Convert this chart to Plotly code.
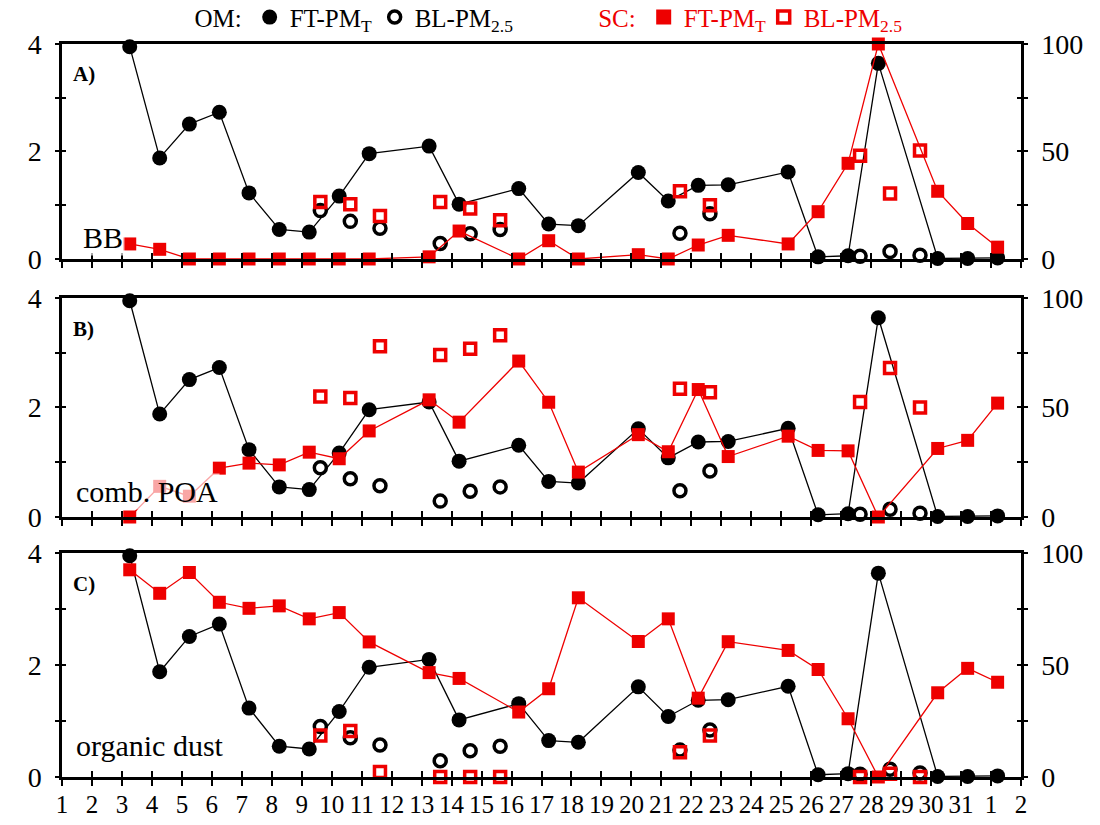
import plotly.graph_objects as go

# x axis: day of month (1..31, then 1, 2 of next month)
days = list(range(1, 34))
day_labels = ['1', '2', '3', '4', '5', '6', '7', '8', '9', '10', '11', '12', '13', '14', '15', '16',
              '17', '18', '19', '20', '21', '22', '23', '24', '25', '26', '27', '28', '29', '30', '31',
              '1', '2']

# sampling times
ft_x = [3.26, 4.26, 5.25, 6.25, 7.24, 8.25, 9.25, 10.25, 11.25, 13.25, 14.25, 16.24, 17.24,
        18.23, 20.23, 21.23, 22.23, 23.23, 25.23, 26.23, 27.23, 28.24, 30.22, 31.22, 32.22]
bl_x = [9.62, 10.62, 11.61, 13.62, 14.62, 15.62, 21.62, 22.62, 27.63, 28.63, 29.63]

# OM (left axis), same in every panel
om_ft = [3.95, 1.88, 2.51, 2.73, 1.23, 0.55, 0.50, 1.17, 1.96, 2.10, 1.02, 1.31, 0.65,
         0.62, 1.61, 1.08, 1.37, 1.38, 1.62, 0.04, 0.06, 3.64, 0.01, 0.01, 0.02]
om_bl = [0.90, 0.70, 0.57, 0.29, 0.47, 0.55, 0.48, 0.84, 0.05, 0.14, 0.07]

# source contributions in % (right axis)
bb_ft = [7, 4.5, 0, 0, 0, 0, 0, 0, 0, 1, 13, 0, 8.5,
         0, 2, 0, 6.5, 11, 7, 22, 44.5, 100, 31.5, 16.5, 5.5]
bb_bl = [26.5, 25.5, 20, 26.5, 23.5, 18, 31.5, 25, 48, 30.5, 50.5]

poa_ft = [0, 14, 9.5, 22.3, 24.6, 23.8, 29.6, 26.6, 39.3, 53.5, 43.3, 71.2, 52.4,
          20.5, 37.6, 29.8, 58.2, 27.6, 36.9, 30.4, 30.2, 0, 31.3, 35, 52]
poa_bl = [55, 54.3, 78, 74, 76.8, 83, 58.5, 57, 52.5, 68, 50]

dust_ft = [92.5, 82, 91.3, 78, 75.3, 76.4, 70.6, 73.4, 60.3, 46.6, 44, 29, 39.4,
           80, 60.5, 70.6, 35.2, 60.4, 56.5, 48, 26, 0, 37.6, 48.5, 42.3]
dust_bl = [18.5, 20.5, 2.2, 0, 0, 0, 11, 18.5, 0, 1.5, 0]

RED = '#ee0000'
FONT = 'Liberation Serif'

panels = [
    ('A)', 'BB', bb_ft, bb_bl, [0.7067, 1.0], 0.10),
    ('B)', 'comb. POA', poa_ft, poa_bl, [0.3547, 0.6535], 0.115),
    ('C)', 'organic dust', dust_ft, dust_bl, [0.0, 0.3056], 0.14),
]

tick_style = dict(tickwidth=2, tickcolor='black')
plain = dict(showgrid=False, zeroline=False)

fig = go.Figure()
layout = {}
annotations = []

for i, (tag, label, sc_ft, sc_bl, dom, label_y) in enumerate(panels):
    x_id = 'x' if i == 0 else f'x{i + 1}'
    yl_id = 'y' if i == 0 else f'y{2 * i + 1}'
    yr_id = f'y{2 * i + 2}'
    xin_id = f'x{4 + i}'
    ylin_id = f'y{7 + 2 * i}'
    yrin_id = f'y{8 + 2 * i}'

    # OM traces
    fig.add_trace(go.Scatter(x=ft_x, y=om_ft, mode='lines+markers',
                             line=dict(color='black', width=1.3),
                             marker=dict(color='black', size=15),
                             xaxis=x_id, yaxis=yl_id, showlegend=False, cliponaxis=False))
    fig.add_trace(go.Scatter(x=bl_x, y=om_bl, mode='markers',
                             marker=dict(symbol='circle-open', color='black', size=12,
                                         line=dict(color='black', width=3.5)),
                             xaxis=x_id, yaxis=yl_id, showlegend=False, cliponaxis=False))
    # SC traces
    fig.add_trace(go.Scatter(x=ft_x, y=sc_ft, mode='lines+markers',
                             line=dict(color=RED, width=1.3),
                             marker=dict(symbol='square', color=RED, size=13),
                             xaxis=x_id, yaxis=yr_id, showlegend=False, cliponaxis=False))
    fig.add_trace(go.Scatter(x=bl_x, y=sc_bl, mode='markers',
                             marker=dict(symbol='square-open', color=RED, size=11,
                                         line=dict(color=RED, width=3.5)),
                             xaxis=x_id, yaxis=yr_id, showlegend=False, cliponaxis=False))
    # empty traces so the inner-tick axes get drawn
    fig.add_trace(go.Scatter(x=[], y=[], xaxis=xin_id, yaxis=ylin_id, showlegend=False, hoverinfo='skip'))
    fig.add_trace(go.Scatter(x=[], y=[], xaxis=x_id, yaxis=yrin_id, showlegend=False, hoverinfo='skip'))

    xname = 'xaxis' if i == 0 else f'xaxis{i + 1}'
    ylname = 'yaxis' if i == 0 else f'yaxis{2 * i + 1}'
    layout[xname] = dict(domain=[0, 1], range=[1, 33], anchor=yl_id,
                         tickmode='array', tickvals=days, ticktext=day_labels,
                         showticklabels=(i == 2), ticks='outside', ticklen=6, **tick_style,
                         showline=True, linewidth=2.5, linecolor='black', mirror=True,
                         ticklabelstandoff=-3, tickfont=dict(size=25, color='black'), **plain)
    layout[ylname] = dict(domain=dom, range=[0, 4], anchor=x_id,
                          tickmode='array', tickvals=[0, 2, 4],
                          ticks='outside', ticklen=4, **tick_style,
                          minor=dict(dtick=1, ticks='outside', ticklen=4, **tick_style),
                          showline=True, linewidth=2.5, linecolor='black',
                          ticklabelstandoff=8, tickfont=dict(size=28, color='black'), **plain)
    layout[f'yaxis{2 * i + 2}'] = dict(overlaying=yl_id, side='right', anchor=x_id, range=[0, 100],
                                       tickmode='array', tickvals=[0, 50, 100],
                                       ticks='outside', ticklen=4, **tick_style,
                                       minor=dict(dtick=25, ticks='outside', ticklen=4, **tick_style),
                                       showline=True, linewidth=2.5, linecolor='black',
                                       ticklabelstandoff=8, tickfont=dict(size=28, color='black'), **plain)
    # inner halves of the crossing tick marks
    layout[f'xaxis{4 + i}'] = dict(overlaying=x_id, anchor=yl_id, side='bottom', range=[1, 33],
                                   tickmode='array', tickvals=days, ticks='inside', ticklen=6,
                                   **tick_style, showticklabels=False, showline=False, **plain)
    layout[f'yaxis{7 + 2 * i}'] = dict(overlaying=yl_id, anchor=x_id, side='left', range=[0, 4],
                                       tickmode='linear', tick0=0, dtick=1, ticks='inside', ticklen=4,
                                       **tick_style, showticklabels=False, showline=False, **plain)
    layout[f'yaxis{8 + 2 * i}'] = dict(overlaying=yl_id, anchor=x_id, side='right', range=[0, 100],
                                       tickmode='linear', tick0=0, dtick=25, ticks='inside', ticklen=4,
                                       **tick_style, showticklabels=False, showline=False, **plain)

    annotations.append(dict(text=f'<b>{tag}</b>', xref=f'{x_id} domain', yref=f'{yl_id} domain',
                            x=0.009, y=0.86, xanchor='left', yanchor='middle', showarrow=False,
                            font=dict(size=21, color='black')))
    annotations.append(dict(text=label, xref=f'{x_id} domain', yref=f'{yl_id} domain',
                            x=0.013 if i else 0.02, y=label_y, xanchor='left', yanchor='middle',
                            showarrow=False, bgcolor='rgba(255,255,255,0.65)', borderpad=1,
                            font=dict(size=30, color='black')))

# legend entries
fig.add_trace(go.Scatter(x=[None], y=[None], mode='markers', name='FT-PM<sub>T</sub>',
                         marker=dict(color='black', size=15), legend='legend', legendwidth=80))
fig.add_trace(go.Scatter(x=[None], y=[None], mode='markers', name='BL-PM<sub>2.5</sub>',
                         marker=dict(symbol='circle-open', color='black', size=12,
                                     line=dict(color='black', width=3.5)), legend='legend'))
fig.add_trace(go.Scatter(x=[None], y=[None], mode='markers', name='FT-PM<sub>T</sub>',
                         marker=dict(symbol='square', color=RED, size=15), legend='legend2',
                         legendwidth=75))
fig.add_trace(go.Scatter(x=[None], y=[None], mode='markers', name='BL-PM<sub>2.5</sub>',
                         marker=dict(symbol='square-open', color=RED, size=12,
                                     line=dict(color=RED, width=3.5)), legend='legend2'))

fig.update_layout(
    width=1100, height=825,
    margin=dict(l=62, r=79, t=44, b=48, autoexpand=False),
    paper_bgcolor='white', plot_bgcolor='white',
    font=dict(family=FONT, color='black'),
    annotations=annotations,
    legend=dict(orientation='h', x=0.136, xanchor='left', y=0.979, yanchor='middle',
                xref='paper', yref='container',
                title=dict(text='OM:', side='left', font=dict(size=25, color='black')),
                font=dict(size=25, color='black'), bgcolor='rgba(0,0,0,0)'),
    legend2=dict(orientation='h', x=0.557, xanchor='left', y=0.979, yanchor='middle',
                 xref='paper', yref='container',
                 title=dict(text='SC:', side='left', font=dict(size=25, color=RED)),
                 font=dict(size=25, color=RED), bgcolor='rgba(0,0,0,0)'),
    **layout,
)

# drop the default 8px page margin so the figure fills the window exactly
fig.write_html('out.html', config={'displayModeBar': False},
               post_script="document.body.style.margin = '0';")
